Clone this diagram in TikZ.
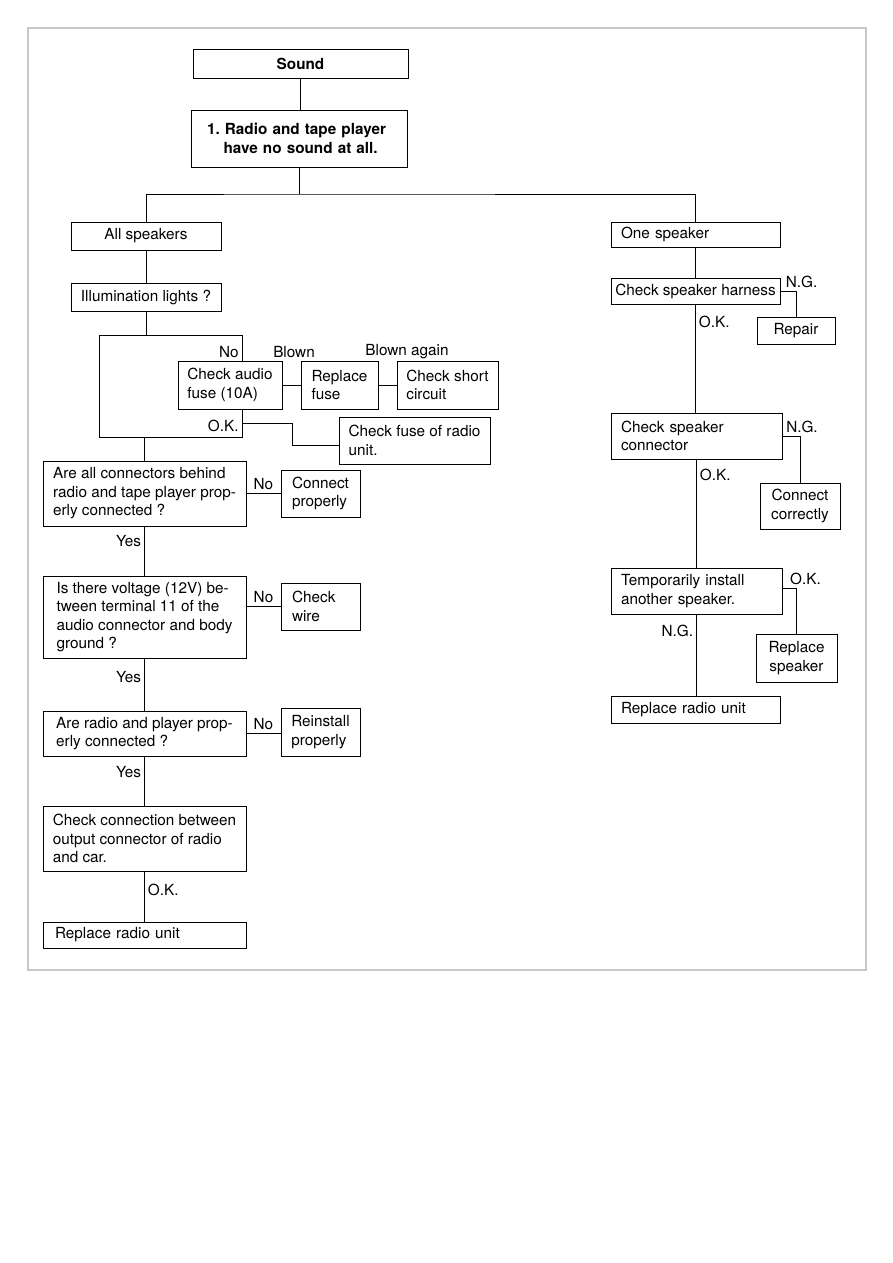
\documentclass[tikz,border=0pt]{standalone}
\usepackage{fontspec}
\setmainfont{TeX Gyre Heros}

\begin{document}
\begin{tikzpicture}[
		x=0.6667pt, y=-0.6667pt,
		line width=0.6pt,
		box/.style={draw, align=left, inner xsep=0pt, inner ysep=2pt, font=\fontsize{10.2}{12.3}\selectfont},
		lbox/.style={box, inner xsep=6.7pt, text width=#1},
		bold/.style={font=\fontsize{10.2}{12.3}\selectfont\bfseries},
		lbl/.style={inner sep=2pt, font=\fontsize{10.2}{12.3}\selectfont},
		frame/.style={draw=black!22, line width=0.7pt}
		]
		\useasboundingbox (0,0) rectangle (893,1263);
		\draw[frame] (28,28) rectangle (866,970);
		
		% top
		\node[box, bold, align=center, minimum width=143.3pt, minimum height=19.3pt] (sound) at (300.5,63.5) {Sound};
		\node[lbox=122.6pt, bold, inner xsep=10.7pt, minimum height=38pt] (prob) at (299,138.5) {1.\ Radio and tape player\\\hspace*{11pt}have no sound at all.};
		\coordinate (split) at (299,194);
		
		% all speakers
		\node[box, align=center, minimum width=100pt, minimum height=18.7pt] (allspk) at (146,236) {All speakers};
		\node[box, minimum width=100pt, minimum height=18.7pt] (illum) at (146,297) {Illumination lights ?};
		\coordinate (lt) at (99,335);
		\coordinate (rt) at (242,335);
		\coordinate (lb) at (99,437);
		\coordinate (rb) at (242,437);
		\node[box, minimum width=69.3pt, minimum height=32pt] (audiofuse) at (230,385) {Check audio\\fuse (10A)};
		\node[box, minimum width=51.3pt, minimum height=32pt] (repfuse) at (339.5,385) {Replace\\fuse};
		\node[box, minimum width=67.3pt, minimum height=32pt] (short) at (447.5,385) {Check short\\circuit};
		\node[lbl] (blown) at (294,352) {Blown};
		\node[lbl] (blownagain) at (407,352) {Blown again};
		\node[box, minimum width=100.7pt, minimum height=31.3pt] (radiofuse) at (414.5,440.5) {Check fuse of radio\\unit.};
		\coordinate (okpt) at (242,423);
		\coordinate (jog) at (292,423);
		\node[box, minimum width=135.3pt, minimum height=43.3pt] (conn) at (144.5,493.5) {Are all connectors behind\\radio and tape player prop-\\erly connected ?};
		\node[box, minimum width=52.7pt, minimum height=31.3pt] (connprop) at (320.5,493.5) {Connect\\properly};
		\node[box, minimum width=135.3pt, minimum height=54.7pt] (volt) at (144.5,617) {Is there voltage (12V) be-\\tween terminal 11 of the\\audio connector and body\\ground ?};
		\node[lbox=38pt, inner xsep=7.3pt, minimum height=31.3pt] (wire) at (320.5,606.5) {Check\\wire};
		\node[box, minimum width=135.3pt, minimum height=30pt] (seated) at (144.5,733.5) {Are radio and player prop-\\erly connected ?};
		\node[box, minimum width=52.7pt, minimum height=32pt] (reinst) at (320.5,732) {Reinstall\\properly};
		\node[box, minimum width=135.3pt, minimum height=43.3pt] (output) at (144.5,838.5) {Check connection between\\output connector of radio\\and car.};
		\node[lbox=119.3pt, inner xsep=8pt, minimum height=17.3pt] (replL) at (144.5,935) {Replace radio unit};
		
		% one speaker
		\node[lbox=99.3pt, minimum height=16.7pt] (onespk) at (695.5,234.5) {One speaker};
		\node[box, minimum width=112.7pt, minimum height=17.3pt] (harness) at (695.5,291) {Check speaker harness};
		\node[box, align=center, minimum width=52pt, minimum height=18pt] (repair) at (796,330.5) {Repair};
		\node[lbox=100.6pt, minimum height=30.7pt] (spkconn) at (696.5,436) {Check speaker\\connector};
		\node[box, align=center, minimum width=53.3pt, minimum height=30.7pt] (conncorr) at (800,506) {Connect\\correctly};
		\node[lbox=100.6pt, minimum height=30.7pt] (temp) at (696.5,591) {Temporarily install\\another speaker.};
		\node[box, align=center, minimum width=54pt, minimum height=32pt] (repspk) at (796.5,658) {Replace\\speaker};
		\node[lbox=99.3pt, minimum height=18pt] (replR) at (695.5,709.5) {Replace radio unit};
		
		% connectors
		\draw (sound) -- (sound |- prob.north);
		\draw (prob) -- (split);
		\draw (allspk) |- (split) -| (onespk);
		\draw (allspk) -- (illum);
		\draw (illum.south) -- (illum.south |- lt);
		\draw (rt |- audiofuse.north) -- node[lbl, left, pos=0.35] {No} (rt) -- (lt) -- (lb) -- (rb)
			-- node[lbl, left, pos=0.39] {O.K.} (rt |- audiofuse.south);
		\draw (audiofuse) -- (repfuse);
		\draw (repfuse) -- (short);
		\draw (okpt) -- (jog) |- ([yshift=-3.5pt]radiofuse.west);
		\draw (conn.north |- lb) -- (conn.north);
		\draw (conn) -- node[lbl, above] {No} (connprop);
		\draw (conn) -- node[lbl, left, pos=0.3] {Yes} (volt);
		\draw (volt.east |- wire.west) -- node[lbl, above] {No} (wire.west);
		\draw (volt) -- node[lbl, left, pos=0.36] {Yes} (seated);
		\draw (seated.east) -- node[lbl, above] {No} (seated.east -| reinst.west);
		\draw (seated) -- node[lbl, left, pos=0.32] {Yes} (output);
		\draw (output) -- node[lbl, right, pos=0.37] {O.K.} (replL);
		
		\draw (onespk) -- (harness);
		\draw (harness.east) -| node[lbl, above, xshift=3.7pt] {N.G.} (repair.north);
		\draw (harness.south) -- node[lbl, right, pos=0.165] {O.K.} (harness.south |- spkconn.north);
		\draw (spkconn.east) -| node[lbl, above, xshift=1.3pt] {N.G.} (conncorr.north);
		\draw (spkconn.south) -- node[lbl, right, pos=0.14] {O.K.} (spkconn.south |- temp.north);
		\draw ([yshift=2pt]temp.east) -| node[lbl, above, xshift=6pt] {O.K.} (repspk.north);
		\draw (temp.south) -- node[lbl, left, pos=0.2] {N.G.} (temp.south |- replR.north);
	\end{tikzpicture}
\end{document}
